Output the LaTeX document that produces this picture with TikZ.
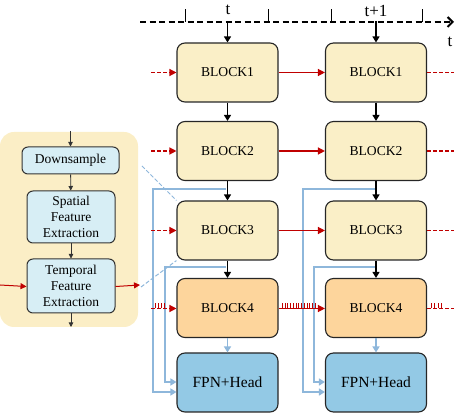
\documentclass[tikz,border=0pt]{standalone}
\usepackage{fontspec}
\setmainfont{Liberation Serif}
\newfontfamily\tnr{Liberation Serif}
\usetikzlibrary{arrows.meta}
\definecolor{byel}{HTML}{FAEFC7}
\definecolor{borange}{HTML}{FDD59C}
\definecolor{bblue}{HTML}{93C9E5}
\definecolor{panelc}{HTML}{FBEEC6}
\definecolor{sbox}{HTML}{D7EEF5}
\definecolor{lblue}{HTML}{8EB7DB}
\definecolor{dred}{HTML}{C00000}
\begin{document}
\begin{tikzpicture}[x=1pt,y=-1pt,
  blk/.style={draw=black!85, line width=1.1pt, rounded corners=8pt, minimum width=101pt, minimum height=59pt, inner sep=0pt, fill=byel, font=\tnr\fontsize{13.6}{16}\selectfont},
  sbx/.style={draw=black!80, line width=1pt, rounded corners=6pt, inner sep=0pt, fill=sbox, align=center, font=\tnr\fontsize{13.5}{16}\selectfont},
  barr/.style={draw=black, line width=1.2pt, -{Triangle[length=6pt,width=7pt]}},
  sarr/.style={draw=black!80, line width=0.8pt, -{Triangle[length=4.5pt,width=4.5pt]}},
  rsol/.style={draw=dred, line width=1.3pt, -{Triangle[length=7pt,width=7pt]}},
  rdash/.style={draw=dred, line width=1.3pt, dash pattern=on 4pt off 2pt, -{Triangle[length=7pt,width=7pt]}},
  rdashn/.style={draw=dred, line width=1.3pt, dash pattern=on 4pt off 2pt},
  rtick/.style={draw=dred, line width=0.9pt},
  bline/.style={draw=lblue, line width=1.5pt, -{Triangle[length=6pt,width=7pt]}},
  zline/.style={draw=lblue, line width=1pt, dash pattern=on 4pt off 2pt},
  lbl/.style={font=\tnr\fontsize{17}{18}\selectfont, inner sep=0pt}
]
\useasboundingbox (0,0) rectangle (456,414);

% left panel
\node[fill=panelc, rounded corners=14pt, minimum width=138pt, minimum height=195pt, inner sep=0pt] (pan) at (69,229.5) {};
\node[sbx, minimum width=97pt, minimum height=27pt] (ds) at (70.5,160.5) {Downsample};
\node[sbx, minimum width=88pt, minimum height=52pt] (sp) at (71,217) {Spatial\\Feature\\Extraction};
\node[sbx, minimum width=88pt, minimum height=54pt] (tp) at (71,286) {Temporal\\Feature\\Extraction};
\coordinate (pin) at (70.5,131);
\coordinate (pout) at (71,327);
\coordinate (rin) at (0,285);
\coordinate (rout) at (140,285);
\draw[sarr] (pin) -- (ds.north);
\draw[sarr] (ds) -- (sp);
\draw[sarr] (sp) -- (tp);
\draw[sarr] (tp) -- (pout);
\draw[rsol, line width=1pt, -{Triangle[length=6pt,width=6pt]}] (rin) -- ([yshift=-0.5pt]tp.west);
\draw[rsol, line width=1pt, -{Triangle[length=6pt,width=6pt]}] ([yshift=-0.5pt]tp.east) -- (rout);

% blocks
\node[blk] (a1) at (227.5,72.5) {BLOCK1};
\node[blk] (a2) at (227.5,151) {BLOCK2};
\node[blk] (a3) at (227.5,230.5) {BLOCK3};
\node[blk, fill=borange] (a4) at (227.5,308) {BLOCK4};
\node[blk, fill=bblue, font=\tnr\fontsize{15.5}{17}\selectfont] (a5) at (227.5,382.5) {FPN+Head};
\node[blk] (b1) at (376,72.5) {BLOCK1};
\node[blk] (b2) at (376,151) {BLOCK2};
\node[blk] (b3) at (376,230.5) {BLOCK3};
\node[blk, fill=borange] (b4) at (376,308) {BLOCK4};
\node[blk, fill=bblue, font=\tnr\fontsize{15.5}{17}\selectfont] (b5) at (376,382.5) {FPN+Head};

% zoom lines
\coordinate (z1) at (142,166);
\coordinate (z2) at (141,287);
\draw[zline] (z1) -- (a3.north west);
\draw[zline] (z2) -- (a3.south west);

% blue skip connections
\coordinate (p1) at (226,189);
\coordinate (p2) at (226,267);
\coordinate (p3) at (374.5,189);
\coordinate (p4) at (374.5,267);
\draw[bline] (p1) -- ++(-73,0) |- ([yshift=-9.5pt]a5.west);
\draw[bline] (p2) -- ++(-61,0) |- ([yshift=0.5pt]a5.west);
\draw[bline] (p3) -- ++(-71.5,0) |- ([yshift=-9.5pt]b5.west);
\draw[bline] (p4) -- ++(-60.5,0) |- ([yshift=0.5pt]b5.west);
\draw[bline] (a4) -- (a5);
\draw[bline] (b4) -- (b5);

% time axis
\coordinate (ax0) at (140,22);
\coordinate (ax1) at (454,22);
\draw[line width=2.3pt, dash pattern=on 6pt off 3.5pt, -{Straight Barb[length=5pt,width=10pt,line width=2pt]}] (ax0) -- (ax1);
\foreach \x in {185.5,268,331,422.5} \draw[line width=1pt] (\x,22) -- (\x,9.5);
\node[lbl] (tl) at (228,10) {t};
\node[lbl] (t1l) at (376,11) {t+1};
\node[lbl] (tr) at (450,42) {t};
\coordinate (ta) at (227.5,21);
\coordinate (tb) at (376,21);
\draw[barr] (ta) -- (a1.north);
\draw[barr] (tb) -- (b1.north);

% vertical black arrows
\draw[barr] (a1) -- (a2);
\draw[barr] (a2) -- (a3);
\draw[barr] (a3) -- (a4);
\draw[barr] (b1) -- (b2);
\draw[barr] (b2) -- (b3);
\draw[barr] (b3) -- (b4);

% red temporal connections
\foreach \r/\y in {1/72.5,2/151,3/230.5}{
  \coordinate (l\r) at (151,\y);
  \coordinate (e\r) at (454,\y);
  \draw[rdash] (l\r) -- (a\r.west);
  \draw[rsol] (a\r) -- (b\r);
  \draw[rdashn] (b\r.east) -- (e\r);
}
\coordinate (l4) at (151,308.5);
\coordinate (e4) at (454,308.5);
\draw[rdash] (l4) -- ([yshift=-0.5pt]a4.west);
\draw[rsol] ([yshift=-0.5pt]a4.east) -- ([yshift=-0.5pt]b4.west);
\draw[rdashn] ([yshift=-0.5pt]b4.east) -- (e4);
\foreach \x in {155,158,161,164} \draw[rtick] (\x,308.5) -- (\x,303.5);
\foreach \x in {282,285,287.5,290.5,293,296,298.5,301.5,304,307,309.5,312.5,315} \draw[rtick] (\x,308.5) -- (\x,303.5);
\foreach \x in {431,434,438,441} \draw[rtick] (\x,308.5) -- (\x,303.5);
\end{tikzpicture}
\end{document}
